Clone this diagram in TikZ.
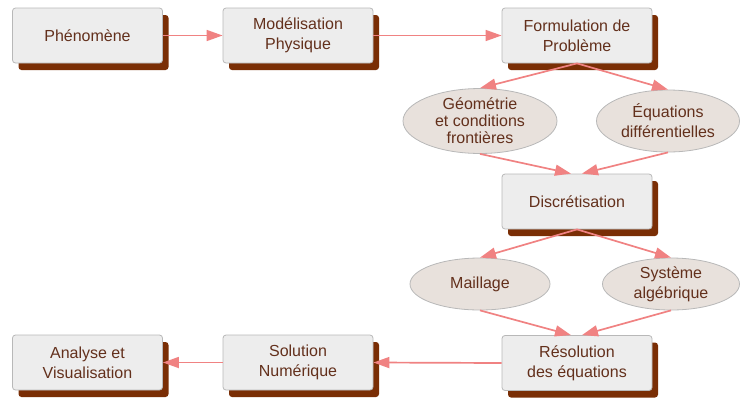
\documentclass[tikz,border=0pt]{standalone}
\usepackage{fontspec}
\setmainfont{Liberation Sans}
\usetikzlibrary{shapes.geometric,arrows.meta,shadows}
\definecolor{boxfill}{HTML}{EDEDED}
\definecolor{boxdraw}{HTML}{B8B8B8}
\definecolor{shadowc}{HTML}{7A2E05}
\definecolor{txtc}{HTML}{63301C}
\definecolor{arrc}{HTML}{F08282}
\definecolor{ellfill}{HTML}{E8E1DC}
\begin{document}
\begin{tikzpicture}[x=1pt,y=-1pt,
  every node/.style={font=\fontsize{16}{20}\selectfont, text=txtc, align=center},
  stepbox/.style={rectangle, rounded corners=3pt, draw=boxdraw, fill=boxfill, line width=0.8pt,
     minimum width=150pt, minimum height=55pt, inner sep=0pt,
     drop shadow={shadow xshift=6pt, shadow yshift=-7pt, fill=shadowc, opacity=1}},
  ellbox/.style={ellipse, draw=boxdraw, fill=ellfill, line width=0.8pt, inner sep=0pt},
  conn/.style={draw=arrc, line width=1.7pt, -{Triangle[length=16pt,width=11pt,fill=arrc]}}
]
\useasboundingbox (0,0) rectangle (741,397);
\node[stepbox] (phen) at (87.5,35.5) {Phénomène};
\node[stepbox] (mod) at (298,35.5) {Modélisation\\Physique};
\node[stepbox] (form) at (577,35.5) {Formulation de\\Problème};
\node[ellbox, minimum width=154pt, minimum height=62pt, font=\fontsize{16}{17}\selectfont] (geo) at (480,121) {Géométrie\\et conditions\\frontières};
\node[ellbox, minimum width=143pt, minimum height=62pt] (equ) at (668,121) {Équations\\différentielles};
\node[stepbox] (disc) at (577,201.5) {Discrétisation};
\node[ellbox, minimum width=140pt, minimum height=52pt] (mail) at (480,284) {Maillage};
\node[ellbox, minimum width=137pt, minimum height=52pt] (sys) at (671,284) {Système\\algébrique};
\node[stepbox] (res) at (577,363) {Résolution\\des équations};
\node[stepbox] (sol) at (298,362.5) {Solution\\Numérique};
\node[stepbox] (ana) at (87.5,362.5) {Analyse et\\Visualisation};

\draw[conn] (phen.east) -- (mod.west);
\draw[conn] (mod.east) -- (form.west);
\draw[conn] (form.south) -- (geo.north);
\draw[conn] (form.south) -- (equ.north);
\draw[conn] (geo.south) -- ([xshift=-6pt]disc.north);
\draw[conn] (equ.south) -- ([xshift=5pt]disc.north);
\draw[conn] (disc.south) -- (mail.north);
\draw[conn] (disc.south) -- (sys.north);
\draw[conn] (mail.south) -- ([xshift=-6pt]res.north);
\draw[conn] (sys.south) -- ([xshift=5pt]res.north);
\draw[conn] (res.west) -- (sol.east);
\draw[conn] (sol.west) -- (ana.east);
\end{tikzpicture}
\end{document}
